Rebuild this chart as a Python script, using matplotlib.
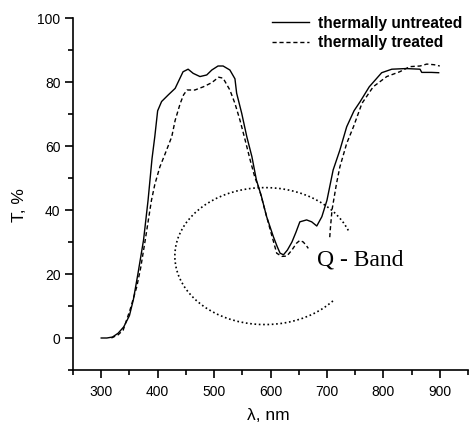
import numpy as np
import matplotlib
matplotlib.use("Agg")
import matplotlib.pyplot as plt
from matplotlib.patches import Arc
from matplotlib.ticker import MultipleLocator

# --- data ---
wl_untreated = [300, 310, 320, 330, 340, 350, 357, 365, 375, 383, 390, 395, 400, 407,
                419, 431, 445, 454, 463, 475, 487, 496, 507, 516, 528, 537, 540, 549,
                558, 567, 575, 584, 593, 605, 612, 617, 623, 630, 638, 645, 652, 664,
                673, 682, 691, 700, 711, 723, 735, 748, 759, 775, 797, 815, 840, 865,
                868, 885, 898]
t_untreated = [0, 0, 0.3, 1.5, 3.5, 7, 12, 20, 30.6, 43, 56, 63, 71, 73.9,
               76, 78, 83.2, 84, 82.7, 81.7, 82.2, 83.75, 85, 85, 83.75, 81, 76.5, 70.2,
               62.9, 56.7, 49.4, 44.2, 38, 31.7, 28.5, 26.5, 26, 27.5, 30, 33, 36.3, 36.9,
               36.3, 35, 37.9, 43, 52.5, 58.75, 66, 71, 73.9, 78.5, 82.9, 84, 84.2, 84,
               83, 83, 82.9]

# treated curve has a gap between ~667 and ~705 nm
wl_treated = [318, 330, 339, 351, 363, 370, 378, 389, 395, 404, 412, 425, 431, 440,
              446, 452, 466, 481, 496, 508, 516, 528, 537, 546, 555, 564, 572, 581,
              590, 600, 611, 620, 629, 638, 646, 652, 658, 663, 667, 686,
              705, 706, 709, 717, 723, 735, 747, 762, 782, 806, 829, 847, 865, 877,
              890, 900]
t_treated = [0, 1, 2.5, 8.75, 16, 22, 30.6, 43, 48, 53.5, 57, 62.9, 68, 73.3,
             76, 77.5, 77.5, 78.5, 79.8, 81.5, 81.2, 77.5, 73.3, 68, 61.9, 55.6, 50.4, 46,
             40, 33.5, 26.5, 25.5, 25.6, 27.5, 29.6, 30.5, 30, 29, 28, np.nan,
             31.5, 34, 40, 48.3, 53.5, 60.8, 66, 73.3, 78.5, 81.7, 83.2, 84.8, 85, 85.6,
             85.4, 85]

plt.rcParams['font.family'] = ['Liberation Sans', 'DejaVu Sans']

fig = plt.figure(figsize=(4.71, 4.26), dpi=100)
ax = fig.add_axes([73/471, 56/426, 395/471, 352/426])

ax.plot(wl_untreated, t_untreated, color='black', lw=1.0, label='thermally untreated')
ax.plot(wl_treated, t_treated, color='black', lw=1.0, linestyle=(0, (3, 2)),
        label='thermally treated')

# dotted ellipse arc around the Q band
cx, cy, w, h = 590, 25.6, 319, 42.8
def arc_angle(t):
    t = np.deg2rad(t)
    return np.rad2deg(np.arctan2(h * np.sin(t), w * np.cos(t)))
ax.add_patch(Arc((cx, cy), w, h, theta1=arc_angle(22), theta2=arc_angle(320.5) + 360,
                 color='black', lw=1.2, linestyle=(0, (1, 1.6))))
ax.text(682, 22.8, 'Q - Band', family=['Liberation Serif', 'DejaVu Serif'],
        fontsize=17, va='baseline', ha='left')

ax.set_xlim(250, 950)
ax.set_ylim(-10, 100)
ax.xaxis.set_major_locator(MultipleLocator(100))
ax.xaxis.set_minor_locator(MultipleLocator(50))
ax.yaxis.set_major_locator(MultipleLocator(20))
ax.yaxis.set_minor_locator(MultipleLocator(10))
ax.set_xticks(range(300, 901, 100))
ax.set_yticks(range(0, 101, 20))
ax.tick_params(which='major', direction='out', length=6, width=1.2, labelsize=10)
ax.tick_params(axis='x', which='major', pad=5)
ax.tick_params(axis='y', which='major', pad=3)
ax.tick_params(which='minor', direction='out', length=3.5, width=1.2)
for s in ['top', 'right']:
    ax.spines[s].set_visible(False)
for s in ['left', 'bottom']:
    ax.spines[s].set_linewidth(1.2)

fig.text(19/471, 1 - 205/426, 'T, %', rotation=90, ha='center', va='center', fontsize=12.5)
fig.text(268/471, 1 - 415/426, 'λ, nm', ha='center', va='center', fontsize=12.5)

ax.legend(loc='upper left', bbox_to_anchor=(264/471, 1 - 8/426),
          bbox_transform=fig.transFigure, frameon=False, borderpad=0,
          handlelength=2.4, handletextpad=0.6, labelspacing=0.3,
          prop={'weight': 'bold', 'size': 11.2})

fig.savefig('out.png', dpi=100)
